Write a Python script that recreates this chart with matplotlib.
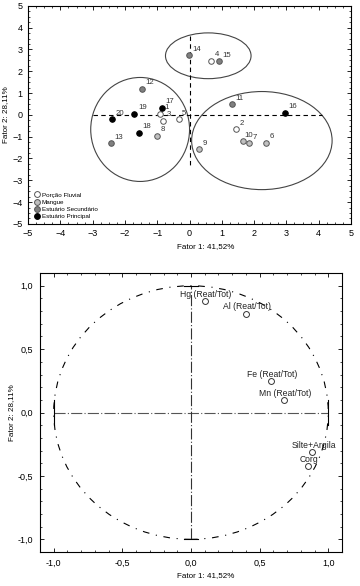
import matplotlib
matplotlib.use('Agg')
import matplotlib.pyplot as plt
from matplotlib.patches import Ellipse
from matplotlib.lines import Line2D
from matplotlib.ticker import MultipleLocator, FuncFormatter

plt.rcParams['font.family'] = ['Liberation Sans', 'DejaVu Sans']

# scores of the 20 stations (Fator 1 x Fator 2)
estacoes = list(range(1, 21))
fator1 = [-0.90, 1.43, -0.82, 0.67, -0.34, 2.37, 1.83, -1.01, 0.30, 1.65,
          1.31, -1.48, -2.43, -0.03, 0.90, 2.95, -0.85, -1.56, -1.71, -2.40]
fator2 = [0.06, -0.66, -0.28, 2.48, -0.20, -1.27, -1.31, -0.95, -1.57, -1.21,
          0.49, 1.19, -1.30, 2.74, 2.46, 0.09, 0.32, -0.83, 0.06, -0.20]
grupo = [0, 0, 0, 0, 0, 1, 1, 1, 1, 1, 2, 2, 2, 2, 2, 3, 3, 3, 3, 3]
grupos = ['Porção Fluvial', 'Mangue', 'Estuário Secundário', 'Estuário Principal']
cores = ['white', '#c0c0c0', '#808080', 'black']

# ellipses grouping the stations (center x, center y, width, height)
elipses = [(0.58, 2.71, 2.65, 2.1), (-1.53, -0.67, 3.06, 4.77), (2.24, -1.18, 4.35, 4.5)]

# loadings of the variables
variaveis = ['Hg (Reat/Tot)', 'Al (Reat/Tot)', 'Fe (Reat/Tot)', 'Mn (Reat/Tot)', 'Silte+Argila', 'Corg']
carga1 = [0.10, 0.40, 0.58, 0.675, 0.885, 0.85]
carga2 = [0.88, 0.78, 0.245, 0.10, -0.31, -0.42]

virgula = FuncFormatter(lambda v, p: ('%.1f' % v).replace('.', ','))

fig = plt.figure(figsize=(3.6, 5.86), dpi=100)

# top: scores
ax = fig.add_axes([0.078, 0.618, 0.897, 0.372])
for cx, cy, w, h in elipses:
    ax.add_patch(Ellipse((cx, cy), w, h, fill=False, edgecolor='#444444', lw=0.8))
ax.plot([-3.0, 4.1], [0, 0], 'k--', lw=0.8, dashes=(4, 3))
ax.plot([0, 0], [3.6, -2.4], 'k--', lw=0.8, dashes=(4, 3))
for g in range(4):
    xs = [fator1[i] for i in range(20) if grupo[i] == g]
    ys = [fator2[i] for i in range(20) if grupo[i] == g]
    ax.scatter(xs, ys, s=16, c=cores[g], edgecolors='#555555' if g < 3 else 'black',
               linewidths=0.7, zorder=3)
for i in range(20):
    dx = 1.2 if estacoes[i] == 10 else 2.6
    ax.annotate(str(estacoes[i]), (fator1[i], fator2[i]), xytext=(dx, 4.3),
                textcoords='offset points', ha='left', va='center', fontsize=5.6, color='#333333')
ax.set_xlim(-5, 5)
ax.set_ylim(-5, 5)
ax.xaxis.set_major_locator(MultipleLocator(1))
ax.yaxis.set_major_locator(MultipleLocator(1))
ax.xaxis.set_minor_locator(MultipleLocator(0.25))
ax.yaxis.set_minor_locator(MultipleLocator(0.25))
ax.tick_params(which='both', direction='in', top=True, right=True, labelsize=6.5, pad=4)
ax.tick_params(which='major', length=3, width=0.6)
ax.tick_params(which='minor', length=1.5, width=0.5)
for s in ax.spines.values():
    s.set_linewidth(0.8)
ax.set_xlabel('Fator 1: 41,52%', fontsize=5.8, labelpad=3, x=0.55)
ax.set_ylabel('Fator 2: 28,11%', fontsize=5.8, labelpad=2)
handles = [Line2D([], [], ls='', marker='o', ms=4.2, mfc=cores[g],
                  mec='#555555' if g < 3 else 'black', mew=0.7) for g in range(4)]
ax.legend(handles, grupos, loc='lower left', bbox_to_anchor=(0.0, -0.005), frameon=False,
          fontsize=4.5, handletextpad=0.1, labelspacing=0.3, borderpad=0.4, handlelength=1.2)

# bottom: loadings
ax2 = fig.add_axes([0.111, 0.058, 0.839, 0.476])
circ = plt.Circle((0, 0), 1, fill=False, edgecolor='black', lw=0.8, ls=(0, (6, 6, 1, 6)))
ax2.add_patch(circ)
ax2.plot([-1, 1], [0, 0], color='#555555', lw=0.8, ls=(0, (10, 2, 1, 2)))
ax2.plot([0, 0], [-1, 1], color='#333333', lw=0.8, ls=(0, (10, 2, 1, 2)))
ax2.plot([-1, -1], [-0.1, 0.1], 'k-', lw=0.8)
ax2.plot([1, 1], [-0.1, 0.1], 'k-', lw=0.8)
ax2.plot([-0.05, 0.05], [1, 1], 'k-', lw=0.8)
ax2.plot([-0.05, 0.05], [-1, -1], 'k-', lw=0.8)
ax2.scatter(carga1, carga2, s=18, facecolors='white', edgecolors='#333333', linewidths=0.7, zorder=3)
for i in range(len(variaveis)):
    ax2.annotate(variaveis[i], (carga1[i], carga2[i]), xytext=(1, 4.8),
                 textcoords='offset points', ha='center', va='center', fontsize=6.2, color='#222222')
ax2.set_xlim(-1.1, 1.1)
ax2.set_ylim(-1.1, 1.1)
ax2.xaxis.set_major_locator(MultipleLocator(0.5))
ax2.yaxis.set_major_locator(MultipleLocator(0.5))
ax2.xaxis.set_minor_locator(MultipleLocator(0.1))
ax2.yaxis.set_minor_locator(MultipleLocator(0.1))
ax2.xaxis.set_major_formatter(virgula)
ax2.yaxis.set_major_formatter(virgula)
ax2.tick_params(which='both', direction='in', top=True, right=True, labelsize=6.5, pad=5)
ax2.tick_params(which='major', length=3, width=0.6)
ax2.tick_params(which='minor', length=1.5, width=0.5)
for s in ax2.spines.values():
    s.set_linewidth(0.8)
ax2.set_xlabel('Fator 1: 41,52%', fontsize=5.8, labelpad=3, x=0.55)
ax2.set_ylabel('Fator 2: 28,11%', fontsize=5.8, labelpad=2)

fig.savefig('out.png', dpi=100)
